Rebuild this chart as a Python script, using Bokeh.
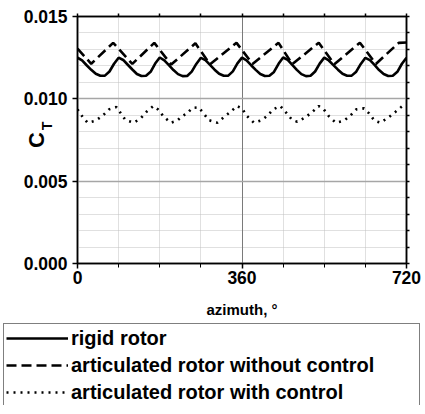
from bokeh.plotting import figure
from bokeh.layouts import column, row
from bokeh.models import (FixedTicker, LinearAxis, Grid, Legend, LegendItem,
                          Range1d, NumeralTickFormatter)
from bokeh.embed import file_html
from bokeh.resources import INLINE

# ---------------- data ----------------
azimuth_rigid = list(range(0, 721, 10))
ct_rigid = [
    0.01250, 0.01233, 0.01204, 0.01176, 0.01152, 0.01140, 0.01141, 0.01166, 0.01213,
    0.01250, 0.01236, 0.01207, 0.01178, 0.01151, 0.01139, 0.01140, 0.01164, 0.01214,
    0.01251, 0.01234, 0.01205, 0.01175, 0.01150, 0.01138, 0.01139, 0.01165, 0.01212,
    0.01249, 0.01235, 0.01206, 0.01177, 0.01152, 0.01140, 0.01141, 0.01167, 0.01215,
    0.01250, 0.01234, 0.01204, 0.01176, 0.01151, 0.01139, 0.01140, 0.01163, 0.01213,
    0.01251, 0.01236, 0.01206, 0.01176, 0.01150, 0.01138, 0.01140, 0.01166, 0.01214,
    0.01250, 0.01233, 0.01205, 0.01177, 0.01152, 0.01140, 0.01141, 0.01165, 0.01212,
    0.01249, 0.01235, 0.01206, 0.01175, 0.01151, 0.01139, 0.01140, 0.01164, 0.01213,
    0.01250,
]

azimuth_nocontrol = [0, 30, 78, 120, 168, 205, 258, 290, 348, 383, 440, 470, 528, 562, 618, 653, 703, 720]
ct_nocontrol = [0.01305, 0.01213, 0.01340, 0.01212, 0.01340, 0.01208, 0.01337, 0.01210,
                0.01340, 0.01212, 0.01340, 0.01210, 0.01341, 0.01210, 0.01341, 0.01212,
                0.01340, 0.01342]

azimuth_control = [0, 10, 22, 39, 54, 69, 85, 94, 105, 123, 138, 151, 166, 176, 189, 204,
                   218, 229, 240, 251, 265, 276, 287, 306, 320, 335, 349, 360, 371, 386,
                   404, 417, 428, 444, 457, 470, 481, 499, 514, 528, 539, 550, 565, 583,
                   596, 610, 627, 638, 650, 663, 681, 696, 711, 720]
ct_control = [0.00936, 0.00895, 0.00855, 0.00867, 0.00895, 0.00936, 0.00950, 0.00915,
              0.00871, 0.00855, 0.00881, 0.00921, 0.00956, 0.00936, 0.00891, 0.00855,
              0.00867, 0.00895, 0.00912, 0.00945, 0.00948, 0.00912, 0.00871, 0.00855,
              0.00888, 0.00921, 0.00956, 0.00942, 0.00895, 0.00855, 0.00871, 0.00901,
              0.00936, 0.00956, 0.00915, 0.00871, 0.00861, 0.00888, 0.00921, 0.00956,
              0.00936, 0.00895, 0.00855, 0.00867, 0.00895, 0.00936, 0.00942, 0.00912,
              0.00867, 0.00855, 0.00888, 0.00921, 0.00956, 0.00965]

series_names = ["rigid rotor", "articulated rotor without control", "articulated rotor with control"]

x_major_ticks = [0, 360, 720]
x_minor_ticks = [90, 180, 270, 450, 540, 630]
y_major_ticks = [0.000, 0.005, 0.010, 0.015]
y_minor_ticks = [0.001, 0.002, 0.003, 0.004, 0.006, 0.007, 0.008, 0.009,
                 0.011, 0.012, 0.013, 0.014]

x_label = "azimuth, °"
y_label_main = "C"
y_label_sub = "\u2003\u2003T"   # em-spaces lift the subscript along the rotated label

# ---------------- layout ----------------
W = 425
H_MAIN, H_LEG = 320, 85
FL, FR, FT, FB = 77, 406, 16, 263  # frame edges in pixels
X0, X1, Y0, Y1 = 0, 720, 0.0, 0.015
FONT = "Liberation Sans"

p = figure(width=W, height=H_MAIN, output_backend="svg", toolbar_location=None,
           x_range=Range1d(X0, X1), y_range=Range1d(Y0, Y1),
           min_border_left=FL, min_border_right=W - FR,
           min_border_top=FT, min_border_bottom=H_MAIN - FB,
           x_axis_location=None, y_axis_location=None)
p.outline_line_color = "black"
p.outline_line_width = 1.5
p.background_fill_color = "white"
p.border_fill_color = "white"

# grids
p.grid.visible = False
p.add_layout(Grid(dimension=0, ticker=FixedTicker(ticks=x_minor_ticks),
                  grid_line_color="#c0c0c0", grid_line_dash="1 1", grid_line_width=1))
p.add_layout(Grid(dimension=1, ticker=FixedTicker(ticks=y_minor_ticks),
                  grid_line_color="#c0c0c0", grid_line_dash="1 1", grid_line_width=1))
p.add_layout(Grid(dimension=0, ticker=FixedTicker(ticks=[360]),
                  grid_line_color="#7a7a7a", grid_line_width=1))
p.add_layout(Grid(dimension=1, ticker=FixedTicker(ticks=[0.005, 0.010]),
                  grid_line_color="#a6a6a6", grid_line_width=1.6))


def style_axis(ax):
    ax.axis_line_color = "black"
    ax.axis_line_width = 1.5
    ax.major_tick_line_color = "black"
    ax.minor_tick_line_color = "black"
    ax.major_tick_line_width = 1.5
    ax.minor_tick_line_width = 1
    ax.major_tick_in = 0
    ax.minor_tick_in = 0
    ax.major_label_text_font = FONT
    ax.major_label_text_font_style = "bold"
    ax.major_label_text_font_size = "17.5px"
    ax.major_label_text_color = "black"
    ax.axis_label_text_font = FONT
    ax.axis_label_text_font_style = "bold"
    ax.axis_label_text_color = "black"


def hide_labels(ax):
    ax.major_label_text_font_size = "1px"
    ax.major_label_text_color = None
    ax.major_label_standoff = 0


xb = LinearAxis(ticker=FixedTicker(ticks=x_major_ticks, minor_ticks=x_minor_ticks))
style_axis(xb)
xb.major_tick_out = 5
xb.minor_tick_out = 4
xb.major_label_standoff = 2
xb.axis_label = x_label
xb.axis_label_text_font_size = "15px"
xb.axis_label_standoff = 14
p.add_layout(xb, "below")

xt = LinearAxis(ticker=FixedTicker(ticks=x_major_ticks + x_minor_ticks))
style_axis(xt)
xt.major_tick_out = 3
xt.minor_tick_out = 0
hide_labels(xt)
p.add_layout(xt, "above")

yl = LinearAxis(ticker=FixedTicker(ticks=y_major_ticks, minor_ticks=y_minor_ticks),
                formatter=NumeralTickFormatter(format="0.000"))
style_axis(yl)
yl.major_tick_out = 5
yl.minor_tick_out = 0
yl.major_label_standoff = 5
yl.axis_label = y_label_main
yl.axis_label_text_font_size = "22px"
yl.axis_label_standoff = -28
p.add_layout(yl, "left")

# second (invisible) left axis that only carries the subscript "T"
yl2 = LinearAxis(ticker=FixedTicker(ticks=[]))
style_axis(yl2)
yl2.axis_line_color = None
yl2.major_tick_out = 0
hide_labels(yl2)
yl2.axis_label = y_label_sub
yl2.axis_label_text_font_size = "14px"
yl2.axis_label_standoff = -34
p.add_layout(yl2, "left")

yr = LinearAxis(ticker=FixedTicker(ticks=y_major_ticks + y_minor_ticks))
style_axis(yr)
yr.major_tick_out = 3
yr.minor_tick_out = 0
hide_labels(yr)
p.add_layout(yr, "right")

# series
line_styles = [dict(line_color="black", line_width=2.6),
               dict(line_color="black", line_width=2.6, line_dash="10 5"),
               dict(line_color="black", line_width=2.6, line_dash="2 5")]
p.line(azimuth_rigid, ct_rigid, **line_styles[0])
p.line(azimuth_nocontrol, ct_nocontrol, **line_styles[1])
p.line(azimuth_control, ct_control, **line_styles[2])

# ---------------- legend panel ----------------
lf = figure(width=W, height=H_LEG, output_backend="svg", toolbar_location=None,
            x_range=Range1d(0, W), y_range=Range1d(0, H_LEG),
            min_border_left=0, min_border_right=0, min_border_top=0, min_border_bottom=0,
            x_axis_location=None, y_axis_location=None)
lf.grid.visible = False
lf.outline_line_color = None
lf.background_fill_color = "white"
lf.border_fill_color = "white"
# legend keys: same line styles, drawn off-screen so only the legend samples show
leg_renderers = [lf.line([-20, -10], [-20, -20], **st) for st in line_styles]

legend = Legend(items=[LegendItem(label=n, renderers=[r]) for n, r in zip(series_names, leg_renderers)],
                location=(3, -2))
legend.border_line_color = "black"
legend.border_line_width = 1.5
legend.background_fill_color = "white"
legend.background_fill_alpha = 1
legend.padding = 2
legend.margin = 0
legend.spacing = 3
legend.glyph_width = 62
legend.glyph_height = 24
legend.label_height = 24
legend.label_width = 346
legend.label_standoff = 3
legend.label_text_font = FONT
legend.label_text_font_style = "bold"
legend.label_text_font_size = "20px"
legend.label_text_color = "black"
lf.add_layout(legend)

layout = column(p, row(lf, spacing=0), spacing=0)
open("out.html", "w").write(file_html(layout, INLINE))
